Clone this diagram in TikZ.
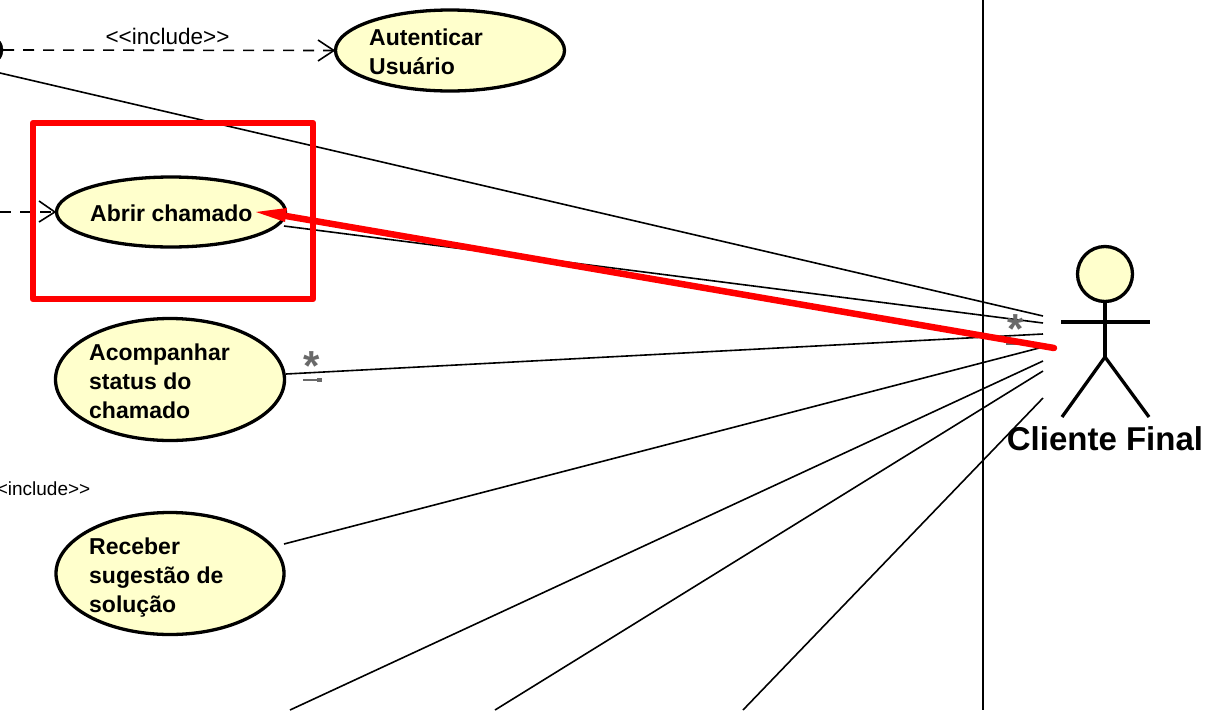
\documentclass[tikz,border=0pt]{standalone}
\usepackage{fontspec}
\setmainfont{Liberation Sans}
\usetikzlibrary{shapes.geometric,arrows.meta}
\definecolor{ucfill}{RGB}{255,255,204}
\definecolor{mult}{RGB}{105,105,105}
\tikzset{
  usecase/.style={ellipse,draw=black,line width=3.3pt,fill=ucfill,inner sep=0pt},
  uclabel/.style={anchor=west,align=left,font=\fontsize{23}{29}\selectfont\bfseries,inner sep=0pt},
  assoc/.style={draw=black,line width=1.6pt},
  incl/.style={draw=black,line width=1.6pt,dash pattern=on 11pt off 9pt},
  openhead/.style={draw=black,line width=1.6pt},
  stereo/.style={font=\fontsize{22.5}{24}\selectfont,inner sep=0pt},
  stereob/.style={font=\fontsize{19}{24}\selectfont,inner sep=0pt},
  actorline/.style={draw=black,line width=3.3pt},
  multstar/.style={font=\fontsize{42}{42}\selectfont\bfseries,text=mult,inner sep=0pt},
  multdash/.style={draw=mult,line width=1.6pt},
  redline/.style={draw=red,line width=6.5pt}
}
\begin{document}
\begin{tikzpicture}[x=1pt,y=-1pt]
\useasboundingbox (0,0) rectangle (1213,710);
\clip (0,0) rectangle (1213,710);
% boundary
\coordinate (bt) at (983,0); \coordinate (bb) at (983,710);
\draw[black,line width=2.2pt] (bt) -- (bb);
% free ends of associations
\coordinate (a1) at (1043,316); \coordinate (a2) at (1043,323); \coordinate (a3) at (1043,334);
\coordinate (a4) at (1043,347); \coordinate (a5) at (1043,361); \coordinate (a6) at (1043,371); \coordinate (a7) at (1043,398);
\coordinate (l1) at (0,73); \coordinate (l2) at (284,226); \coordinate (l3) at (286,374); \coordinate (l4) at (284,544);
\coordinate (l5) at (290,710); \coordinate (l6) at (495,710); \coordinate (l7) at (743,710);
\draw[assoc] (l1) -- (a1);
\draw[assoc] (l2) -- (a2);
\draw[assoc] (l3) -- (a3);
\draw[assoc] (l4) -- (a4);
\draw[assoc] (l5) -- (a5);
\draw[assoc] (l6) -- (a6);
\draw[assoc] (l7) -- (a7);
% use cases
\node[usecase,minimum width=229pt,minimum height=81pt] (aut) at (450,50.5) {};
\node[usecase,minimum width=229pt,minimum height=70pt] (abr) at (171,212) {};
\node[usecase,minimum width=229pt,minimum height=122pt] (aco) at (170,379.5) {};
\node[usecase,minimum width=228pt,minimum height=122pt] (rec) at (170,573.5) {};
\node[uclabel] (taut) at (369,51.5) {Autenticar\\Usuário};
\node[uclabel] (tabr) at (90,213) {Abrir chamado};
\node[uclabel] (taco) at (89,381) {Acompanhar\\status do\\chamado};
\node[uclabel] (trec) at (89,578) {Receber\\sugestão de\\solução};
% include dependencies
\node[circle,draw=black,fill=black,minimum size=30pt,inner sep=0pt] (src) at (-12,50) {};
\coordinate (inc2) at (0,212);
\draw[incl] (src.east) -- (aut.west);
\draw[incl] (inc2) -- (abr.west);
\draw[openhead] (318,40) -- (aut.west) -- (318,61);
\draw[openhead] (39,201) -- (abr.west) -- (39,222);
\node[stereo] (s1) at (167.5,36) {<{}<include>{}>};
\node[stereob,anchor=east] (s2) at (90.5,489) {<{}<include>{}>};
% multiplicities
\node[multstar,anchor=center] (m1) at (311.5,366) {*};
\node[multstar,anchor=center] (m2) at (1015.5,329.5) {*};
\coordinate (d1a) at (303,380); \coordinate (d1b) at (322,380);
\draw[multdash] (d1a) -- (d1b);
\fill[mult] (317,378) rectangle (322,382);
\coordinate (d2a) at (1006,344); \coordinate (d2b) at (1024,344);
\draw[multdash] (d2a) -- (d2b);
% actor
\node[circle,draw=black,line width=3.3pt,fill=ucfill,minimum size=55pt,inner sep=0pt] (head) at (1105,274) {};
\coordinate (hip) at (1105,357); \coordinate (al) at (1061,322); \coordinate (ar) at (1150,322);
\coordinate (fl) at (1062,417); \coordinate (fr) at (1149,417);
\draw[actorline] (head.south) -- (hip);
\draw[actorline] (al) -- (ar);
\draw[actorline] (fl) -- (hip) -- (fr);
\node[font=\fontsize{33}{36}\selectfont\bfseries,inner sep=0pt] (act) at (1105,439) {Cliente Final};
% red overlay
\draw[redline,line join=round] (33,123) rectangle (313,299);
\coordinate (rs) at (1054,348); \coordinate (rt) at (283,215.5);
\draw[redline,line cap=round] (rs) -- (rt);
\fill[red] (256,212) -- (287,208) -- (285,222) -- cycle;
\end{tikzpicture}
\end{document}
